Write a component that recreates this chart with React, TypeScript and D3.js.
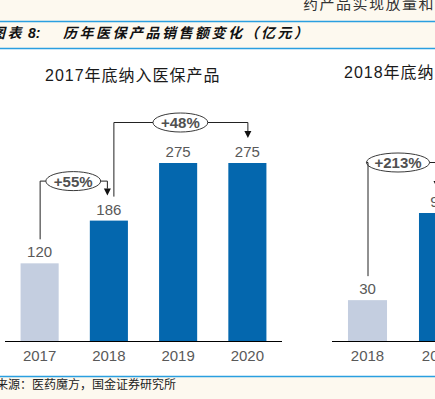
import React from "react";
import * as d3 from "d3";

// header / footer text
const headerText = "药产品实现放量和";
const figureLabel = "图表";
const figureNo = "8:";
const figureTitle = "历年医保产品销售额变化（亿元）";
const sourceText = "资料来源：医药魔方，国金证券研究所";

// left panel: products listed by end of 2017
const leftTitle = "2017年底纳入医保产品";
const leftYears = ["2017", "2018", "2019", "2020"];
const leftValues = [120, 186, 275, 275];
const leftGrowth = [
  { from: "2017", to: "2018", label: "+55%" },
  { from: "2018", to: "2020", label: "+48%" },
];

// right panel: products listed by end of 2018
const rightTitle = "2018年底纳入医保产品";
const rightYears = ["2018", "2019"];
const rightValues = [30, 94];
const rightGrowth = [{ from: "2018", to: "2019", label: "+213%" }];

const W = 435;
const H = 399;
const CREAM = "#fdf9ef";
const RULE = "#2a9fe0";
const DARK = "#0467ae";
const LIGHT = "#c4cee0";
const GREY = "#595959";
const FONT = "'Liberation Sans', Arial, 'Noto Sans CJK SC', sans-serif";
const CJK = "'Noto Sans CJK SC', sans-serif";

const App = () => {
  const svg = React.useRef(null);

  React.useEffect(() => {
    d3.select(svg.current).selectAll("*").remove();
    drawChart(svg);
  }, [svg]);

  return (
    <svg
      ref={svg}
      width={W}
      height={H}
      style={{ position: "absolute", left: 0, top: 0 }}
    />
  );
};

function drawPanel(svg, opts) {
  const { title, titleX, titleY, years, values, xRange, yMax, yTop, growth, lifts, shifts } = opts;
  const baseY = 341;

  const x = d3
    .scaleBand()
    .domain(years)
    .range(xRange)
    .paddingInner(0.45)
    .paddingOuter(0.225);

  const y = d3.scaleLinear().domain([0, yMax]).range([baseY, yTop]);

  const g = svg.append("g");

  g.append("text")
    .attr("x", titleX)
    .attr("y", titleY + 6)
    .attr("font-family", FONT)
    .attr("font-size", 16)
    .attr("letter-spacing", 1)
    .attr("fill", "#1a1a1a")
    .text(title);

  // bars
  g.selectAll("rect.bar")
    .data(years)
    .join("rect")
    .attr("class", "bar")
    .attr("x", (d) => x(d))
    .attr("y", (d, i) => y(values[i]))
    .attr("width", x.bandwidth())
    .attr("height", (d, i) => baseY - y(values[i]))
    .attr("fill", (d, i) => (i === 0 ? LIGHT : DARK));

  // value labels
  g.selectAll("text.val")
    .data(years)
    .join("text")
    .attr("class", "val")
    .attr("x", (d) => x(d) + x.bandwidth() / 2)
    .attr("y", (d, i) => y(values[i]) - 6)
    .attr("text-anchor", "middle")
    .attr("font-family", FONT)
    .attr("font-size", 15)
    .attr("fill", GREY)
    .text((d, i) => values[i]);

  // baseline
  g.append("line")
    .attr("x1", xRange[0])
    .attr("x2", xRange[1])
    .attr("y1", baseY + 0.5)
    .attr("y2", baseY + 0.5)
    .attr("stroke", "#000")
    .attr("stroke-width", 1);

  // year labels
  g.selectAll("text.year")
    .data(years)
    .join("text")
    .attr("class", "year")
    .attr("x", (d) => x(d) + x.bandwidth() / 2)
    .attr("y", baseY + 20)
    .attr("text-anchor", "middle")
    .attr("font-family", FONT)
    .attr("font-size", 15)
    .attr("fill", GREY)
    .text((d) => d);

  // growth connectors
  const val = (yr) => values[years.indexOf(yr)];
  const cx = (yr) => x(yr) + x.bandwidth() / 2;
  const outgoing = new Set(growth.map((a) => a.from));

  growth.forEach((a, i) => {
    const sx = cx(a.from) + (i > 0 || growth.length > 1 && outgoing.has(a.from) && a.from !== years[0] ? 4.5 : 0);
    const ex = cx(a.to) - (outgoing.has(a.to) || a.to === years[years.length - 1] && years.length === 2 ? 2 : 0);
    const sy = y(val(a.from)) - 24;
    const ey = y(val(a.to)) - 25;
    const level = ey - lifts[i];

    const ann = g.append("g");
    const label = ann
      .append("text")
      .attr("text-anchor", "middle")
      .attr("font-family", FONT)
      .attr("font-weight", "bold")
      .attr("font-size", 15)
      .attr("fill", "#505050")
      .text(a.label);
    const tw = label.node().getComputedTextLength();
    const rx = tw / 2 + 8;
    const ox = (sx + ex) / 2 + shifts[i];

    ann
      .append("path")
      .attr(
        "d",
        `M${sx + 0.5},${sy}V${level + 0.5}H${ox - rx}M${ox + rx},${level + 0.5}H${ex + 0.5}V${ey - 7}`
      )
      .attr("fill", "none")
      .attr("stroke", "#222")
      .attr("stroke-width", 1);

    ann
      .append("path")
      .attr("d", `M${ex + 0.5 - 3.5},${ey - 7}L${ex + 0.5 + 3.5},${ey - 7}L${ex + 0.5},${ey}Z`)
      .attr("fill", "#111");

    ann
      .insert("ellipse", "text")
      .attr("cx", ox)
      .attr("cy", level + 0.5)
      .attr("rx", rx)
      .attr("ry", 9.5)
      .attr("fill", "#fff")
      .attr("stroke", "#3a3a3a")
      .attr("stroke-width", 1);

    label.attr("x", ox).attr("y", level + 6);
    label.raise();
  });
}

function drawChart(svgRef) {
  const svg = d3.select(svgRef.current);

  // page background: cream report page, white chart box
  svg.append("rect").attr("width", W).attr("height", H).attr("fill", CREAM);
  svg.append("rect").attr("x", 0).attr("y", 49).attr("width", W).attr("height", 327).attr("fill", "#fff");

  svg
    .append("text")
    .attr("x", 303)
    .attr("y", 9)
    .attr("font-family", CJK)
    .attr("font-size", 15)
    .attr("letter-spacing", 1.5)
    .attr("fill", "#333")
    .text(headerText);

  [21.5, 48.5, 376.5].forEach((ry) => {
    svg
      .append("line")
      .attr("x1", 0)
      .attr("x2", W)
      .attr("y1", ry)
      .attr("y2", ry)
      .attr("stroke", RULE)
      .attr("stroke-width", 1.6);
  });

  // figure title
  const t = svg
    .append("text")
    .attr("y", 38)
    .attr("font-family", FONT)
    .attr("font-size", 14)
    .attr("font-weight", "bold")
    .attr("font-style", "italic")
    .attr("fill", "#111");
  t.append("tspan").attr("x", -9).attr("letter-spacing", 2.5).text(figureLabel);
  t.append("tspan").attr("x", 28).text(figureNo);
  t.append("tspan").attr("x", 63).attr("letter-spacing", 2.5).text(figureTitle);

  svg
    .append("text")
    .attr("x", -28)
    .attr("y", 389)
    .attr("font-family", CJK)
    .attr("font-size", 12)
    .attr("fill", "#222")
    .text(sourceText);

  drawPanel(svg, {
    title: leftTitle,
    titleX: 45,
    titleY: 75,
    years: leftYears,
    values: leftValues,
    xRange: [5, 282],
    yMax: 275,
    yTop: 163,
    growth: leftGrowth,
    lifts: [15, 16],
    shifts: [0, 0],
  });

  drawPanel(svg, {
    title: rightTitle,
    titleX: 344,
    titleY: 72,
    years: rightYears,
    values: rightValues,
    xRange: [332, 474],
    yMax: 94,
    yTop: 213,
    growth: rightGrowth,
    lifts: [26],
    shifts: [-4],
  });
}

export default App;
